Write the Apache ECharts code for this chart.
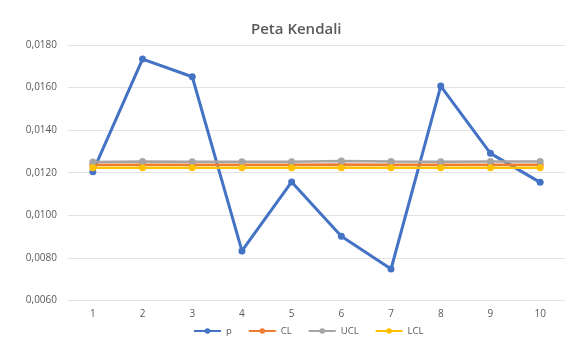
<!DOCTYPE html>
<html>
<head>
<meta charset="utf-8">
<script src="https://cdn.jsdelivr.net/npm/echarts@6/dist/echarts.min.js"></script>
<style>
  html, body { margin: 0; padding: 0; background: #fff; }
  #chart { width: 567px; height: 341px; }
</style>
</head>
<body>
<div id="chart"></div>
<script>
// Sample numbers (x axis)
const samples = ['1', '2', '3', '4', '5', '6', '7', '8', '9', '10'];
// Proportion per sample
const pValues = [0.01205, 0.01734, 0.01651, 0.00833, 0.01157, 0.00902, 0.00748, 0.01607, 0.01291, 0.01155];
// Centre line and control limits
const clValues = [0.01237, 0.01238, 0.01238, 0.01238, 0.01238, 0.01239, 0.01238, 0.01238, 0.01238, 0.01238];
const uclValues = [0.01251, 0.01253, 0.01252, 0.01252, 0.01252, 0.01255, 0.01253, 0.01252, 0.01253, 0.01253];
const lclValues = [0.01223, 0.01223, 0.01224, 0.01224, 0.01224, 0.01223, 0.01223, 0.01224, 0.01223, 0.01223];

const textColor = '#595959';
const fontFamily = '"Open Sans", "Noto Sans", sans-serif';

function lineSeries(name, data, color, width, size) {
  return {
    name: name,
    type: 'line',
    data: data,
    symbol: 'circle',
    symbolSize: size,
    itemStyle: { color: color },
    lineStyle: { color: color, width: width },
    emphasis: { disabled: true },
    animation: false
  };
}

const chart = echarts.init(document.getElementById('chart'));
chart.setOption({
  backgroundColor: '#ffffff',
  textStyle: { fontFamily: fontFamily },
  title: {
    text: 'Peta Kendali',
    left: 246,
    top: 17,
    textStyle: { color: textColor, fontSize: 15, fontWeight: 600, fontFamily: fontFamily }
  },
  legend: {
    bottom: 0,
    left: 188,
    itemWidth: 27,
    itemHeight: 7,
    itemGap: 16,
    textStyle: { color: textColor, fontSize: 9.5, fontFamily: fontFamily },
    data: ['p', 'CL', 'UCL', 'LCL']
  },
  grid: { left: 68, right: 2, top: 45, bottom: 40.5 },
  xAxis: {
    type: 'category',
    data: samples,
    boundaryGap: true,
    axisLine: { show: false },
    axisTick: { show: false },
    axisLabel: { color: textColor, fontSize: 10, margin: 9, fontFamily: fontFamily }
  },
  yAxis: {
    type: 'value',
    min: 0.006,
    max: 0.018,
    interval: 0.002,
    axisLine: { show: false },
    axisTick: { show: false },
    splitLine: { lineStyle: { color: '#e3e3e3', width: 1 } },
    axisLabel: {
      color: textColor,
      fontSize: 10,
      margin: 11,
      fontFamily: fontFamily,
      formatter: v => v.toFixed(4).replace('.', ',')
    }
  },
  series: [
    lineSeries('p', pValues, '#4472C4', 3, 7),
    lineSeries('CL', clValues, '#ED7D31', 2.5, 7),
    lineSeries('UCL', uclValues, '#A5A5A5', 2.5, 7),
    lineSeries('LCL', lclValues, '#FFC000', 2.5, 7)
  ]
});
</script>
</body>
</html>
